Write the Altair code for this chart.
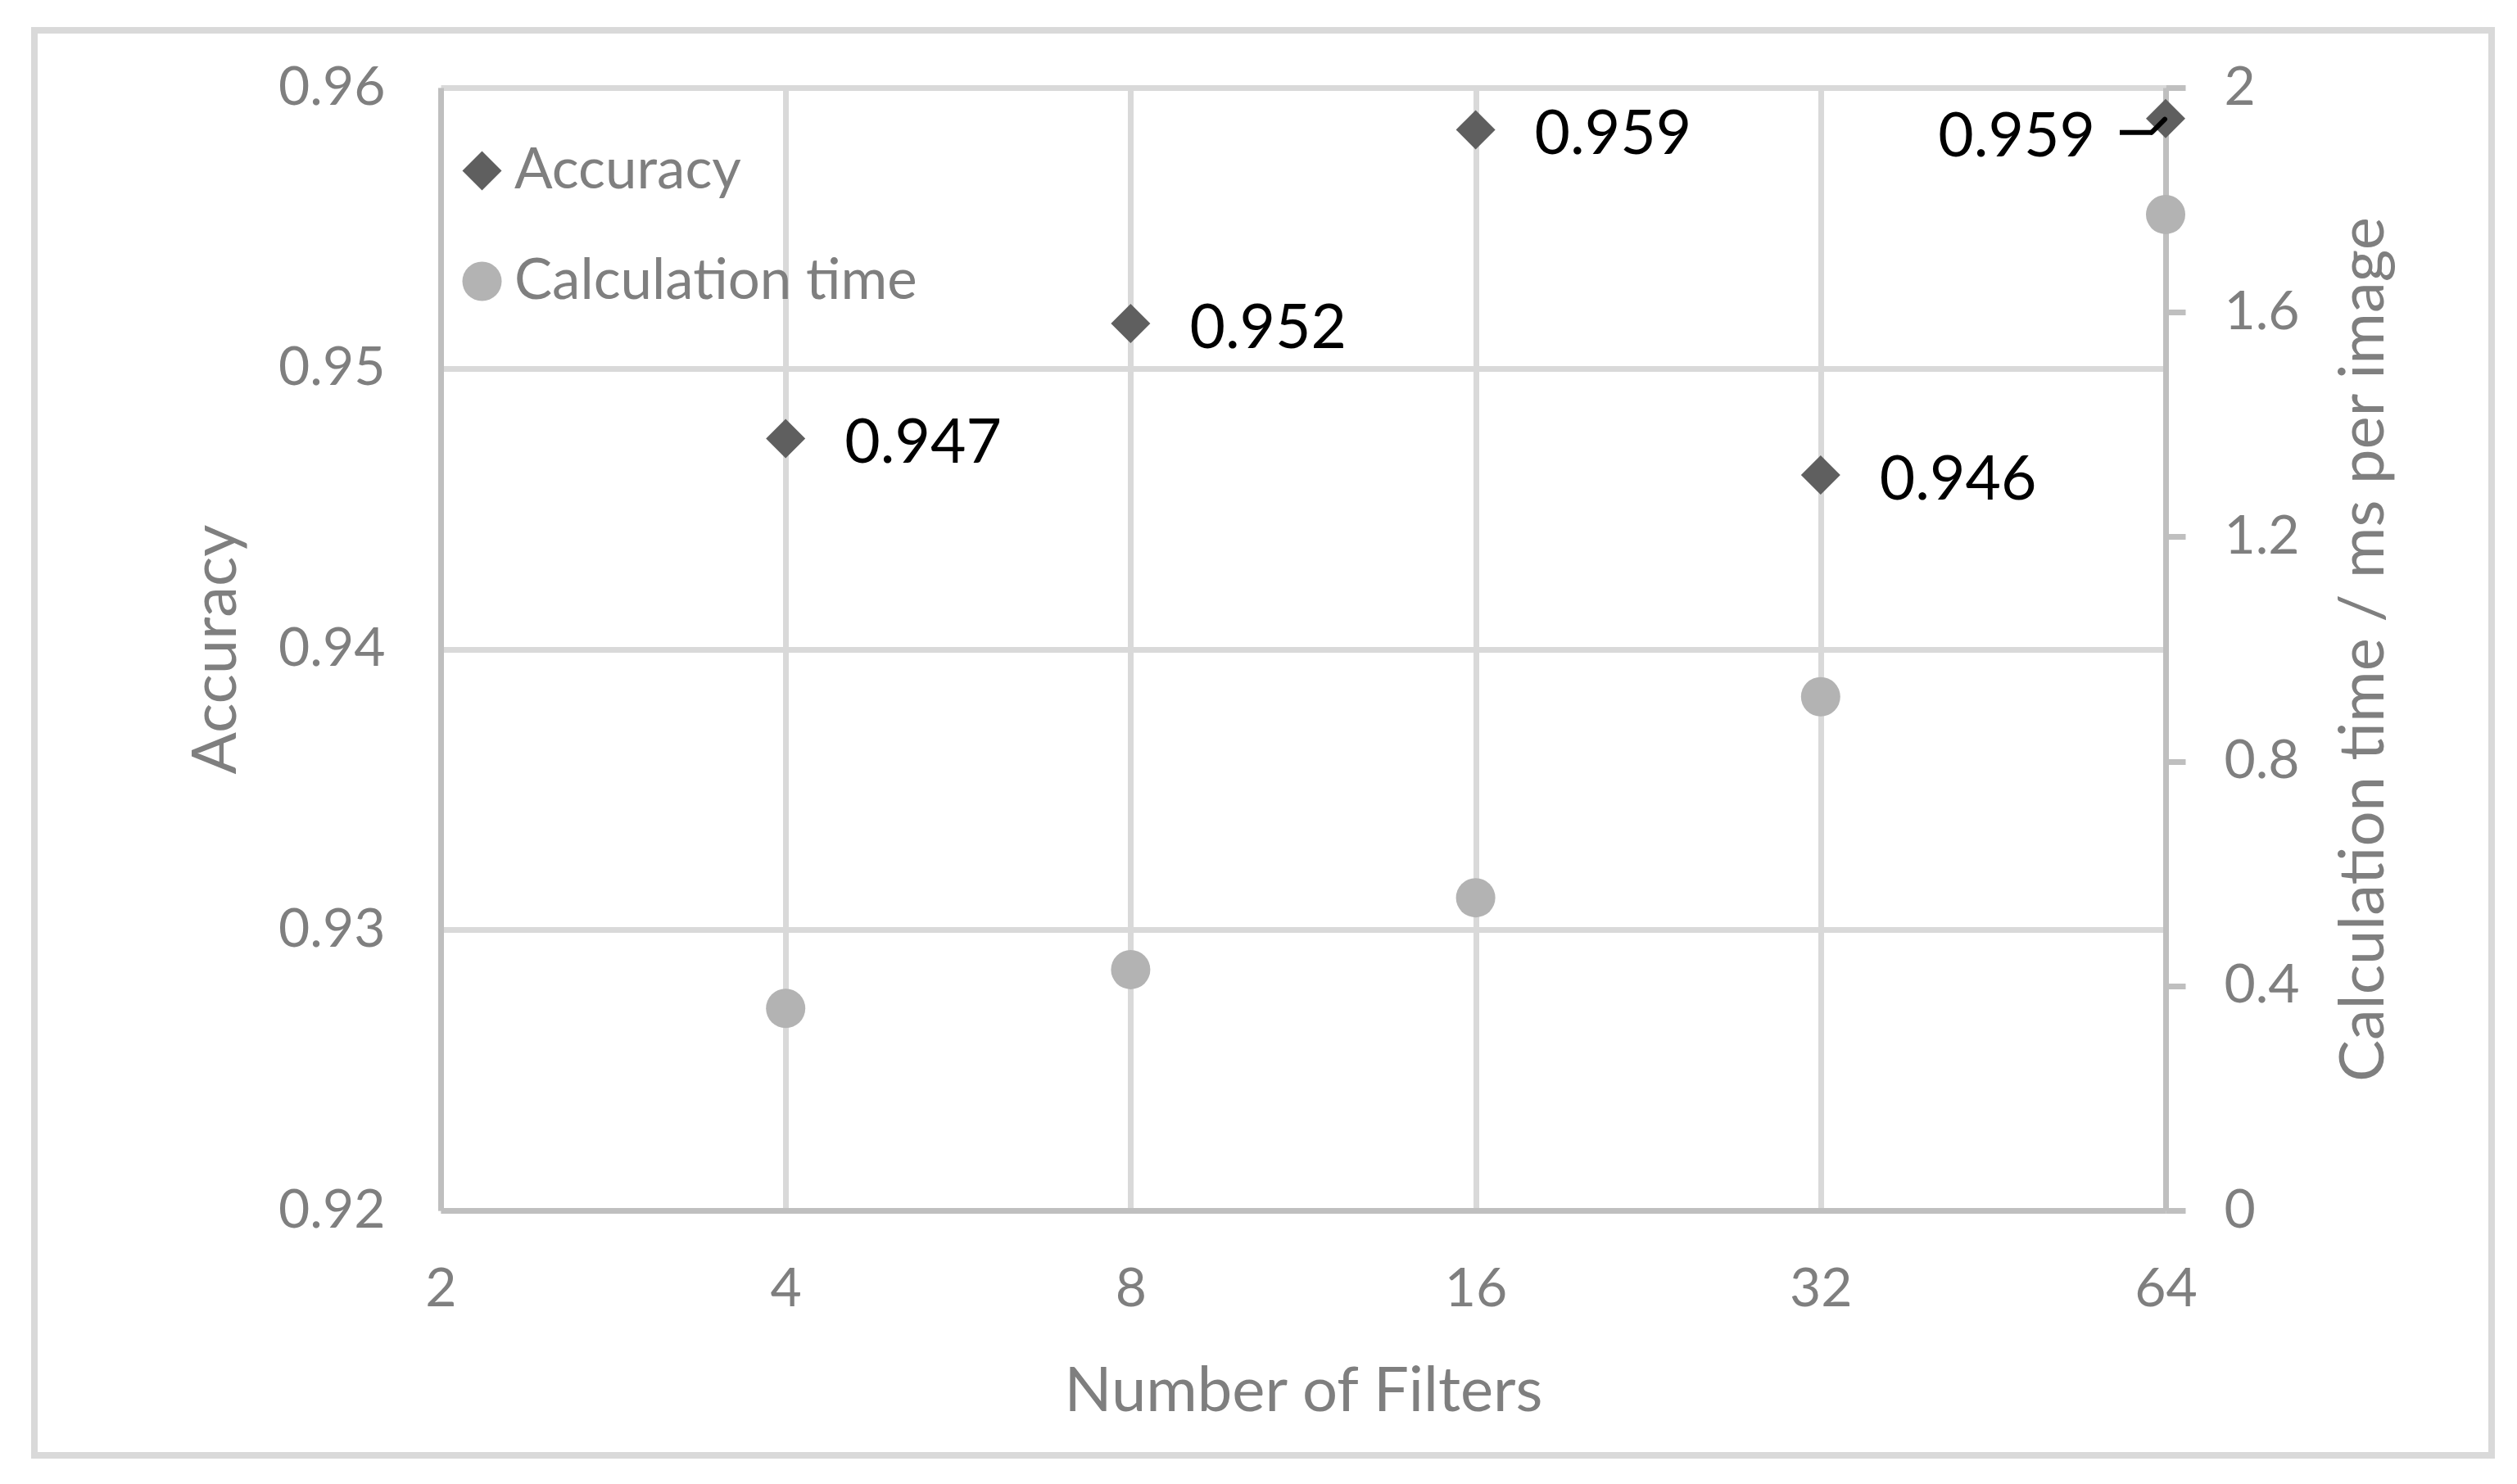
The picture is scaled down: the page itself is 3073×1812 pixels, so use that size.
import altair as alt
import pandas as pd

# ---- data ----
filters = [4, 8, 16, 32, 64]
accuracy = [0.9475, 0.9516, 0.9585, 0.9462, 0.9589]
accuracy_labels = ["0.947", "0.952", "0.959", "0.946", "0.959"]
calc_time = [0.360, 0.429, 0.557, 0.915, 1.774]
series_names = ["Accuracy", "Calculation time"]
x_ticks = [2, 4, 8, 16, 32, 64]
acc_ticks = [0.92, 0.93, 0.94, 0.95, 0.96]
time_ticks = [0, 0.4, 0.8, 1.2, 1.6, 2]

df = pd.DataFrame({"n": filters, "acc": accuracy, "label": accuracy_labels, "time": calc_time})

FONT = "Lato"
GREY_TXT = "#7f7f7f"
AXIS_COL = "#bfbfbf"
GRID_COL = "#d9d9d9"
FS = 66
TFS = 76
W, H = 2106, 1371

x_enc = alt.X(
    "n:Q",
    scale=alt.Scale(type="log", base=2, domain=[2, 64], nice=False),
    axis=alt.Axis(
        values=x_ticks, format="d", title="Number of Filters",
        grid=True, gridColor=GRID_COL, gridWidth=7,
        ticks=False, tickSize=0, domainColor=AXIS_COL, domainWidth=7,
        labelFont=FONT, labelFontSize=FS, labelColor=GREY_TXT, labelPadding=64,
        labelFlush=False, labelOverlap=False,
        titleFont=FONT, titleFontSize=TFS, titleColor=GREY_TXT, titleFontWeight="normal",
        titlePadding=55,
    ),
)

y_acc = alt.Y(
    "acc:Q",
    scale=alt.Scale(domain=[0.92, 0.96], nice=False, zero=False),
    axis=alt.Axis(
        values=acc_ticks, format=".2f", title="Accuracy", orient="left",
        grid=True, gridColor=GRID_COL, gridWidth=7,
        ticks=False, tickSize=0, domainColor=AXIS_COL, domainWidth=7,
        labelFont=FONT, labelFontSize=FS, labelColor=GREY_TXT, labelPadding=68,
        labelOverlap=False,
        titleFont=FONT, titleFontSize=TFS, titleColor=GREY_TXT, titleFontWeight="normal",
        titlePadding=36,
    ),
)

legend = alt.Legend(
    orient="none", legendX=16, legendY=67, title=None, padding=0,
    symbolSize=2304, symbolStrokeWidth=0, labelFont=FONT, labelFontSize=69,
    labelColor=GREY_TXT, rowPadding=65, labelOffset=5, labelLimit=2000,
)
color_enc = alt.Color(
    "series:N",
    scale=alt.Scale(domain=series_names, range=["#5f5f5f", "#b3b3b3"]),
    legend=legend,
)
shape_enc = alt.Shape(
    "series:N",
    scale=alt.Scale(domain=series_names, range=["diamond", "circle"]),
    legend=legend,
)

base = alt.Chart(df)

acc_points = base.transform_calculate(series="'Accuracy'").mark_point(
    filled=True, size=2304, opacity=1
).encode(x=x_enc, y=y_acc, color=color_enc, shape=shape_enc)

acc_labels_main = base.transform_filter("datum.n < 64").mark_text(
    align="left", baseline="middle", dx=72, dy=7, font=FONT, fontSize=75, color="black"
).encode(x=x_enc, y=y_acc, text="label:N")

acc_labels_last = base.transform_filter("datum.n == 64").mark_text(
    align="right", baseline="middle", dx=-86, dy=23, font=FONT, fontSize=75, color="black"
).encode(x=x_enc, y=y_acc, text="label:N")

leader_h = base.transform_filter("datum.n == 64").mark_rule(
    color="black", strokeWidth=6, xOffset=-56, x2Offset=-17, yOffset=17, y2Offset=17
).encode(x=x_enc, x2="n:Q", y=y_acc, y2="acc:Q")

leader_s = base.transform_filter("datum.n == 64").mark_rule(
    color="black", strokeWidth=6, strokeCap="round", xOffset=-17, x2Offset=-1, yOffset=17, y2Offset=1
).encode(x=x_enc, x2="n:Q", y=y_acc, y2="acc:Q")

acc_layer = alt.layer(acc_points, acc_labels_main, acc_labels_last, leader_h, leader_s)

y_time = alt.Y(
    "time:Q",
    scale=alt.Scale(domain=[0, 2], nice=False),
    axis=alt.Axis(
        values=time_ticks, format="~g", title="Calculation time / ms per image", orient="right",
        grid=False, ticks=True, tickSize=24, tickWidth=7, tickColor=AXIS_COL,
        domainColor=AXIS_COL, domainWidth=7,
        labelFont=FONT, labelFontSize=FS, labelColor=GREY_TXT, labelPadding=47,
        labelOverlap=False,
        titleFont=FONT, titleFontSize=TFS, titleColor=GREY_TXT, titleFontWeight="normal",
        titleAngle=270, titleBaseline="top", titlePadding=42,
    ),
)

time_points = base.transform_calculate(series="'Calculation time'").mark_point(
    filled=True, size=2304, opacity=1
).encode(x=x_enc, y=y_time, color=color_enc, shape=shape_enc)

frame = alt.Chart(pd.DataFrame({"k": [0]})).mark_rect(
    fill="transparent", stroke=GRID_COL, strokeWidth=8
).encode(
    x=alt.value(-496), x2=alt.value(2504), y=alt.value(-70), y2=alt.value(1670)
)

chart = alt.layer(frame, acc_layer, time_points).resolve_scale(y="independent").properties(
    width=W, height=H,
    autosize=alt.AutoSizeParams(type="none"),
    padding={"left": 530, "top": 99, "right": 410, "bottom": 310},
    background="white",
).configure_view(strokeWidth=0)

chart.save("out.html", embed_options={"renderer": "svg", "actions": False})
